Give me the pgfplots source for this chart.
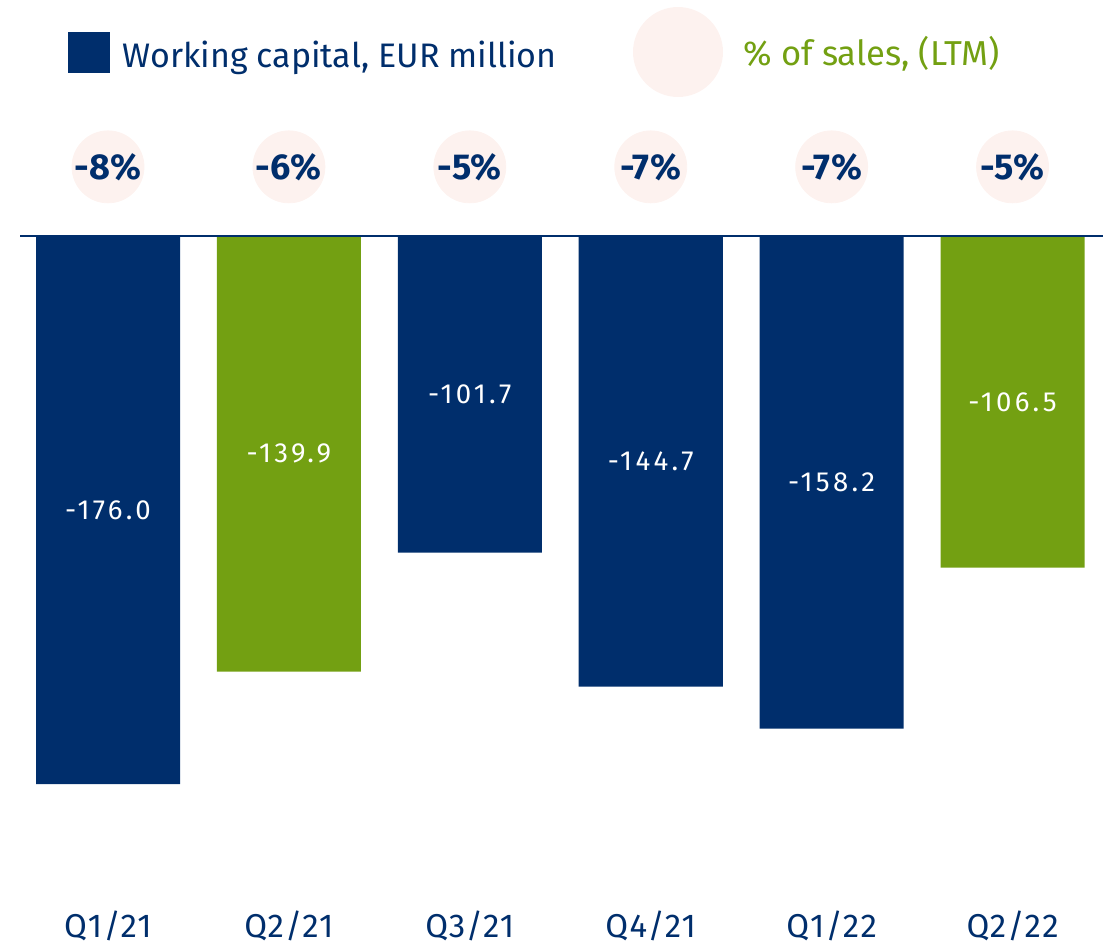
\documentclass[border=0pt]{standalone}
\usepackage{fontspec}
\setmainfont{Fira Sans}
\usepackage{pgfplots}
\pgfplotsset{compat=1.18}
\definecolor{navy}{HTML}{002E6C}
\definecolor{wgreen}{HTML}{73A012}
\definecolor{pinkc}{HTML}{FDF2EF}
\begin{document}
\begin{tikzpicture}
\useasboundingbox (0,0) rectangle (553.5pt,-474pt);
\begin{axis}[
 at={(10pt,-118pt)}, anchor=north west,
 scale only axis, width=541.5pt, height=332pt,
 xmin=-0.4865, xmax=5.5, ymin=-213.2, ymax=0,
 axis line style={draw=none}, ytick=\empty,
 xtick={0,...,5}, xticklabels={Q1/21,Q2/21,Q3/21,Q4/21,Q1/22,Q2/22},
 major tick length=0pt,
 xticklabel style={font=\fontsize{16.5}{18}\selectfont\addfontfeature{LetterSpace=4}, text=navy, yshift=-4pt, inner sep=1pt},
 clip=false,
]
\addplot[ybar, bar width=0.796, bar shift=0pt, fill=navy, draw=none] coordinates {(0,-176.0) (2,-101.7) (3,-144.7) (4,-158.2)};
\addplot[ybar, bar width=0.796, bar shift=0pt, fill=wgreen, draw=none] coordinates {(1,-139.9) (5,-106.5)};
\addplot[sharp plot, draw=navy, line width=0.75pt, mark=none] coordinates {(-0.4865,0) (5.5,0)};
\addplot[draw=none, mark=none, nodes near coords, point meta=explicit symbolic,
  every node near coord/.append style={anchor=center, text=white, font=\fontsize{13.8}{15}\selectfont\addfontfeature{LetterSpace=12}}]
  table[meta=label] {
x y label
0 -88.0 -176.0
1 -69.95 -139.9
2 -50.85 -101.7
3 -72.35 -144.7
4 -79.1 -158.2
5 -53.25 -106.5
};
\addplot[only marks, draw=pinkc, fill=pinkc, mark=*, mark size=18pt, mark options={fill=pinkc, draw=pinkc},
  nodes near coords, point meta=explicit symbolic,
  every node near coord/.append style={anchor=center, text=navy, font=\fontsize{18}{20}\selectfont\bfseries}]
  table[meta=label] {
x y label
0 22.2 -8\%
1 22.2 -6\%
2 22.2 -5\%
3 22.2 -7\%
4 22.2 -7\%
5 22.2 -5\%
};
\end{axis}
\begin{scope}[x=0.5pt,y=-0.5pt]
\fill[navy] (68,32) rectangle (110,73);
\node[anchor=base west, inner sep=0, text=navy, font=\fontsize{17}{20}\selectfont] at (122,67) {Working capital, EUR million};
\fill[pinkc] (678,52) circle (45);
\node[anchor=base west, inner sep=0, text=wgreen, font=\fontsize{17.3}{20}\selectfont] at (743,65) {\% of sales, (LTM)};
\end{scope}
\end{tikzpicture}
\end{document}
